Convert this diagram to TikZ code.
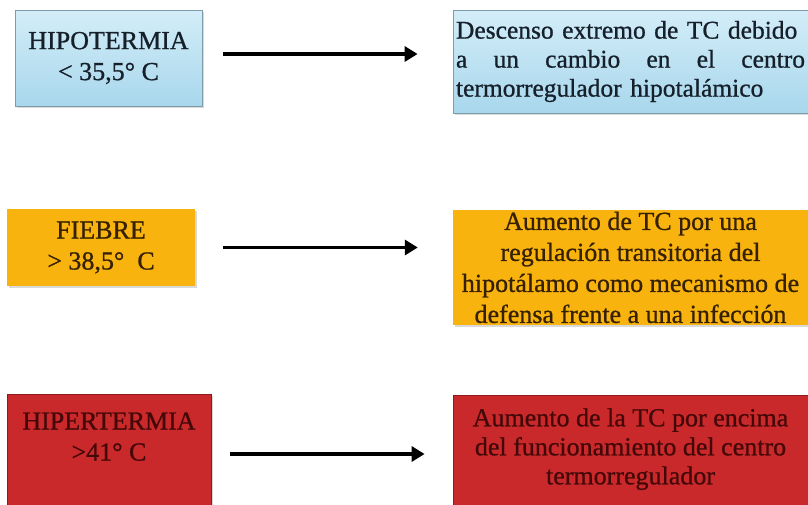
\documentclass[tikz,border=0pt]{standalone}
\usepackage{fontspec}
\setmainfont{Liberation Serif}[FakeBold=0.8]
\usetikzlibrary{arrows.meta,shadows}
\definecolor{celesteA}{HTML}{D3EDF8}
\definecolor{celesteB}{HTML}{A8D7EC}
\definecolor{bordeazul}{HTML}{7F9CAB}
\definecolor{naranja}{HTML}{F9B30F}
\definecolor{rojo}{HTML}{C9292B}
\definecolor{bordero}{HTML}{8E1A1C}
\definecolor{txtazul}{HTML}{16202B}
\definecolor{txtnaranja}{HTML}{352000}
\definecolor{txtrojo}{HTML}{450808}

\begin{document}
\begin{tikzpicture}[x=1pt,y=1pt,
    caja/.style={rectangle,inner sep=0pt,align=center,
      font=\fontsize{26}{31}\selectfont,
      drop shadow={opacity=0.3,shadow xshift=1.5pt,shadow yshift=-2pt}},
    frio/.style={caja,draw=bordeazul,line width=0.8pt,
      top color=celesteA,bottom color=celesteB,text=txtazul},
    tibio/.style={caja,fill=naranja,text=txtnaranja},
    calor/.style={caja,draw=bordero,line width=0.8pt,fill=rojo,text=txtrojo},
    texto/.style={inner sep=0pt,align=center,text=txtrojo},
    flecha/.style={-{Triangle[length=13pt,width=15pt]},line width=3.8pt}]
    \clip (0,0) rectangle (808,-504);
    \node (a1) at (108.5,-58) [frio,minimum width=187pt,minimum height=96pt] {HIPOTERMIA\\< 35,5° C};
    \node (b1) at (630.5,-61.5) [frio,minimum width=355pt,minimum height=103pt,
      text width=349pt,inner xsep=3pt,align=left,font=\fontsize{25.5}{29}\selectfont]
      {\mbox{Descenso extremo de TC debido}\\a\hfill un\hfill cambio\hfill en\hfill el\hfill centro\\termorregulador hipotalámico};
    \node (a2) at (101,-247.5) [tibio,minimum width=188pt,minimum height=77pt] {FIEBRE\\> 38,5°\ \ C};
    \node (b2) at (630.5,-267.5) [tibio,minimum width=355pt,minimum height=115pt]
      {Aumento de TC por una\\regulación transitoria del\\hipotálamo como mecanismo de\\defensa frente a una infección};
    \node (a3) at (109,-454) [calor,minimum width=204pt,minimum height=120pt] {};
    \node (b3) at (630.5,-454.5) [calor,minimum width=355pt,minimum height=119pt] {};
    \node (ta3) at ([yshift=-43pt]a3.north) [texto,font=\fontsize{26}{31}\selectfont] {HIPERTERMIA\\>41° C};
    \node (tb3) at ([yshift=-54.5pt]b3.north) [texto,font=\fontsize{26}{29}\selectfont]
      {Aumento de la TC por encima\\del funcionamiento del centro\\termorregulador};
    \draw[flecha,shorten <=21pt,shorten >=35pt] ([yshift=4pt]a1.east) -- ([yshift=4pt]a1.east -| b1.west);
    \draw[flecha,shorten <=28pt,shorten >=35pt] (a2.east) -- (a2.east -| b2.west);
    \draw[flecha,shorten <=19pt,shorten >=28pt] (a3.east) -- (a3.east -| b3.west);
\end{tikzpicture}
\end{document}
